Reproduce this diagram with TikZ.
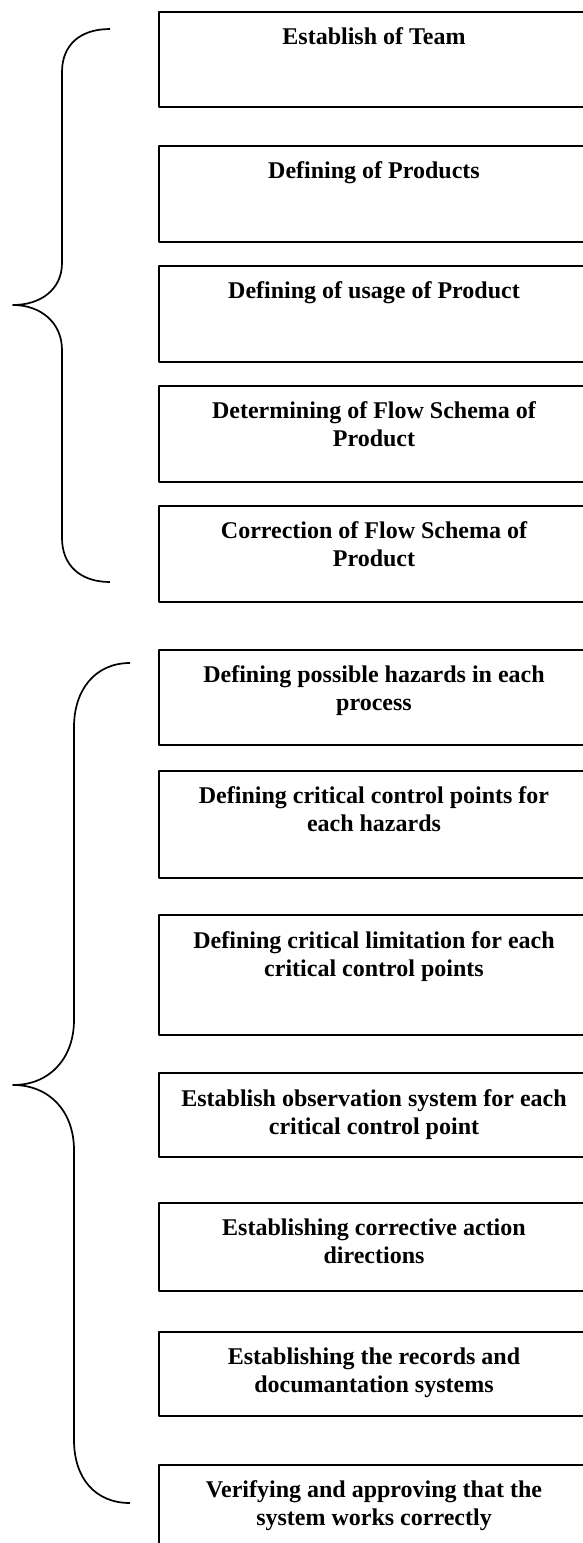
\documentclass[tikz,border=0pt]{standalone}
\usepackage{fontspec}
\setmainfont{Liberation Serif}
\usepackage{tikz}

\begin{document}
\begin{tikzpicture}[x=1pt,y=-1pt,line join=round]
    \tikzstyle{stagebox}=[draw, rectangle, line width=1.6pt, minimum width=432pt, anchor=north west, inner sep=0pt]
    \tikzstyle{stagetext}=[anchor=base, align=center, inner sep=0pt, font=\bfseries\fontsize{24}{28}\selectfont]
    \tikzstyle{brace}=[line width=1.7pt]

    \useasboundingbox (0,0) rectangle (583,1543);
    \clip (0,0) rectangle (583,1543);

    \node[stagebox, minimum height=95pt] (B1) at (158,11) {};
    \node[stagetext] (T1) at (374,44) {Establish of Team};
    \node[stagebox, minimum height=96pt] (B2) at (158,145) {};
    \node[stagetext] (T2) at (374,178) {Defining of Products};
    \node[stagebox, minimum height=96pt] (B3) at (158,265) {};
    \node[stagetext] (T3) at (374,298) {Defining of usage of Product};
    \node[stagebox, minimum height=96pt] (B4) at (158,385) {};
    \node[stagetext] (T4) at (374,446) {Determining of Flow Schema of\\Product};
    \node[stagebox, minimum height=96pt] (B5) at (158,505) {};
    \node[stagetext] (T5) at (374,566) {Correction of Flow Schema of\\Product};

    \node[stagebox, minimum height=95pt] (B6) at (158,649) {};
    \node[stagetext] (T6) at (374,710) {Defining possible hazards in each\\process};
    \node[stagebox, minimum height=107pt] (B7) at (158,770) {};
    \node[stagetext] (T7) at (374,831) {Defining critical control points for\\each hazards};
    \node[stagebox, minimum height=120pt] (B8) at (158,914) {};
    \node[stagetext] (T8) at (374,976) {Defining critical limitation for each\\critical control points};
    \node[stagebox, minimum height=84pt] (B9) at (158,1072) {};
    \node[stagetext] (T9) at (374,1134) {Establish observation system for each\\critical control point};
    \node[stagebox, minimum height=88pt] (B10) at (158,1202) {};
    \node[stagetext] (T10) at (374,1263) {Establishing corrective action\\directions};
    \node[stagebox, minimum height=84pt] (B11) at (158,1331) {};
    \node[stagetext] (T11) at (374,1392) {Establishing the records and\\documantation systems};
    \node[stagebox, minimum height=100pt] (B12) at (158,1464) {};
    \node[stagetext] (T12) at (374,1525) {Verifying and approving that the\\system works correctly};

    \draw[brace] (110,29) .. controls (80,29) and (62,45) .. (62,72) -- (62,263)
        .. controls (62,290) and (40,305) .. (13,305)
        .. controls (40,305) and (62,322) .. (62,350) -- (62,538)
        .. controls (62,565) and (80,582) .. (110,582);
    \draw[brace] (130,663) .. controls (95,663) and (74,690) .. (74,727) -- (74,1020)
        .. controls (74,1058) and (50,1085) .. (13,1085)
        .. controls (50,1085) and (74,1112) .. (74,1150) -- (74,1440)
        .. controls (74,1478) and (95,1503) .. (130,1503);
\end{tikzpicture}
\end{document}
